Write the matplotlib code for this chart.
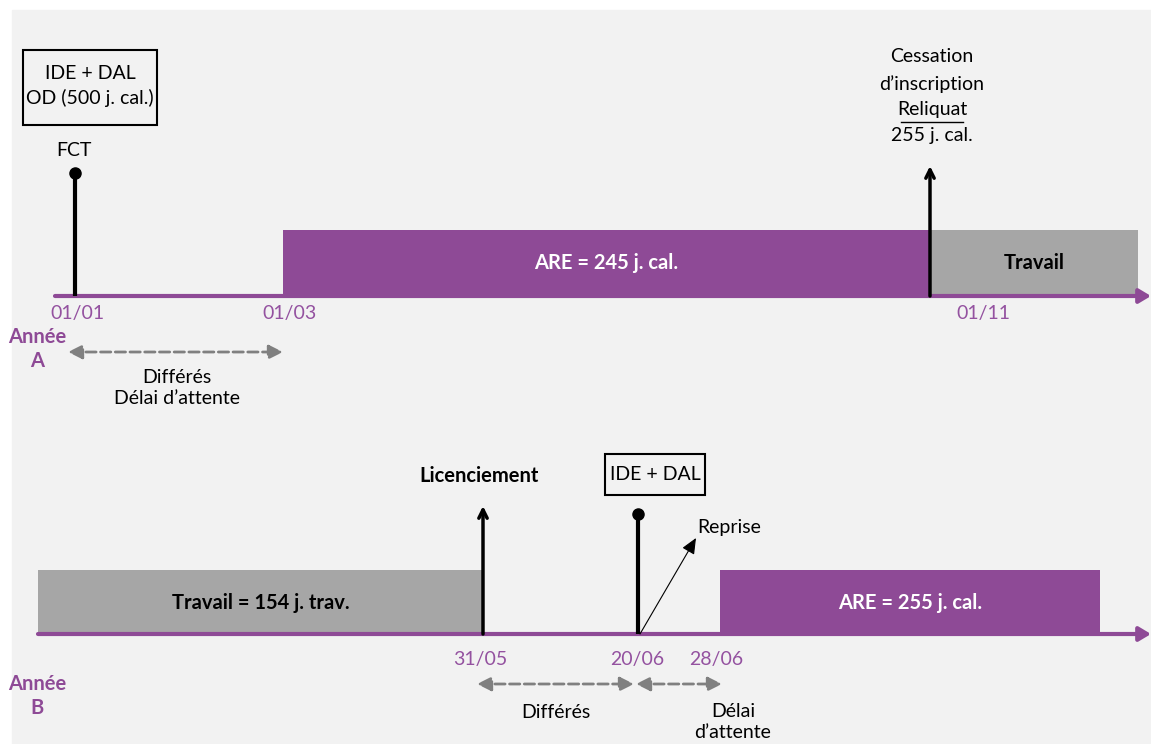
import matplotlib.pyplot as plt
from matplotlib.patches import Rectangle

plt.rcParams['font.family'] = ['Lato', 'DejaVu Sans']

PURPLE = '#8E4A96'
DATE_PURPLE = '#9452A0'
GREY_BAR = '#A6A6A6'
BG = '#F2F2F2'
DASH_GREY = '#808080'
FS = 14
FS_B = 14.5

# --- diagram content ---
bars_a_labels = ['ARE = 245 j. cal.', 'Travail']
bars_b_labels = ['Travail = 154 j. trav.', 'ARE = 255 j. cal.']
dates_a = ['01/01', '01/03', '01/11']
dates_b = ['31/05', '20/06', '28/06']
year_labels = ['Année\nA', 'Année\nB']
box_a_text = 'IDE + DAL\nOD (500 j. cal.)'
box_b_text = 'IDE + DAL'
cessation_lines = ['Cessation', 'd\u2019inscription', 'Reliquat', '255 j. cal.']
gap_a_text = 'Différés\nDélai d\u2019attente'
gap_b_texts = ['Différés', 'Délai\nd\u2019attente']

# --- layout (pixel units) ---
axis_y = [296, 634]
bar_h = 66
bars_a_x = [(283, 930), (930, 1138)]
bars_b_x = [(38, 483), (720, 1100)]
bars_a_col = [PURPLE, GREY_BAR]
bars_b_col = [GREY_BAR, PURPLE]
bars_a_txtcol = ['white', 'black']
bars_b_txtcol = ['black', 'white']
dates_a_x = [77, 290, 983]
dates_b_x = [480, 637, 716]

fig = plt.figure(figsize=(11.51, 7.44), dpi=100)
ax = fig.add_axes([0, 0, 1, 1])
ax.set_xlim(0, 1151)
ax.set_ylim(744, 0)
ax.axis('off')

ax.add_patch(Rectangle((12, 10), 1151, 744, color=BG, zorder=0))

# bars
for (x0, x1), lab, col, tc in zip(bars_a_x, bars_a_labels, bars_a_col, bars_a_txtcol):
    ax.bar(x0, -bar_h, width=x1 - x0, bottom=axis_y[0],
           align='edge', color=col, zorder=1)
    ax.text((x0 + x1) / 2, axis_y[0] - 33, lab, ha='center', va='center',
            fontsize=FS_B, fontweight='bold', color=tc, zorder=3)
for (x0, x1), lab, col, tc in zip(bars_b_x, bars_b_labels, bars_b_col, bars_b_txtcol):
    ax.bar(x0, -bar_h + 2, width=x1 - x0, bottom=axis_y[1],
           align='edge', color=col, zorder=1)
    ax.text((x0 + x1) / 2, axis_y[1] - 31, lab, ha='center', va='center',
            fontsize=FS_B, fontweight='bold', color=tc, zorder=3)

# timeline axes with arrow heads
for x0, y in zip([55, 38], axis_y):
    ax.annotate('', xy=(1151, y), xytext=(x0, y), annotation_clip=False,
                arrowprops=dict(arrowstyle='-|>,head_length=0.5,head_width=0.3',
                                color=PURPLE, lw=3, shrinkA=0, shrinkB=0,
                                mutation_scale=14), zorder=2)

# dates
for lab, x in zip(dates_a, dates_a_x):
    ax.text(x, axis_y[0] + 18, lab, ha='center', va='center', fontsize=FS, color=DATE_PURPLE)
for lab, x in zip(dates_b, dates_b_x):
    ax.text(x, axis_y[1] + 26, lab, ha='center', va='center', fontsize=FS, color=DATE_PURPLE)

# year labels
for lab, y in zip(year_labels, [349, 696]):
    ax.text(37, y, lab, ha='center', va='center', fontsize=FS_B, fontweight='bold',
            color=PURPLE, linespacing=1.25)

# year A: FCT stem with dot
ax.plot([75, 75], [axis_y[0], 173], color='black', lw=3, zorder=3, solid_capstyle='butt')
ax.plot(75, 173, 'o', color='black', ms=8, zorder=3)
ax.text(74, 150, 'FCT', ha='center', va='center', fontsize=FS)
ax.add_patch(Rectangle((23, 50), 134, 75, fc='none', ec='black', lw=1.5))
ax.text(90, 86, box_a_text, ha='center', va='center', fontsize=FS, linespacing=1.4)

# year A: cessation arrow
ax.annotate('', xy=(930, 166), xytext=(930, axis_y[0]),
            arrowprops=dict(arrowstyle='->,head_length=0.5,head_width=0.25', color='black',
                            lw=2.5, shrinkA=0, shrinkB=0, mutation_scale=12), zorder=3)
ces_y = [57, 84, 110, 136]
for line, y in zip(cessation_lines, ces_y):
    t = ax.text(932, y, line, ha='center', va='center', fontsize=FS)
    if line == 'Reliquat':
        fig.canvas.draw()
        bb = t.get_window_extent().transformed(ax.transData.inverted())
        ax.plot([bb.x0 + 4, bb.x1 - 4], [y + 12, y + 12], color='black', lw=1)

# year A: gap arrow
ax.annotate('', xy=(283, 352), xytext=(68, 352),
            arrowprops=dict(arrowstyle='<|-|>,head_length=0.6,head_width=0.3', color=DASH_GREY,
                            lw=2, ls='--', shrinkA=0, shrinkB=0, mutation_scale=14))
ax.text(177, 388, gap_a_text, ha='center', va='center', fontsize=FS, linespacing=1.35)

# year B: licenciement arrow
ax.annotate('', xy=(483, 506), xytext=(483, axis_y[1]),
            arrowprops=dict(arrowstyle='->,head_length=0.5,head_width=0.25', color='black',
                            lw=2.5, shrinkA=0, shrinkB=0, mutation_scale=12), zorder=3)
ax.text(479, 476, 'Licenciement', ha='center', va='center', fontsize=FS_B, fontweight='bold')

# year B: IDE + DAL stem
ax.plot([638, 638], [axis_y[1], 514], color='black', lw=3, zorder=3, solid_capstyle='butt')
ax.plot(638, 514, 'o', color='black', ms=8, zorder=3)
ax.add_patch(Rectangle((605, 454), 100, 41, fc='none', ec='black', lw=1.5))
ax.text(655, 475, box_b_text, ha='center', va='center', fontsize=FS)

# reprise arrow
ax.annotate('', xy=(696, 538), xytext=(640, axis_y[1]),
            arrowprops=dict(arrowstyle='-|>,head_length=0.8,head_width=0.35', color='black',
                            lw=0.8, shrinkA=0, shrinkB=0, mutation_scale=12), zorder=3)
ax.text(729, 528, 'Reprise', ha='center', va='center', fontsize=FS)

# year B: gap arrows
for x0, x1 in [(477, 634), (636, 722)]:
    ax.annotate('', xy=(x1, 684), xytext=(x0, 684),
                arrowprops=dict(arrowstyle='<|-|>,head_length=0.6,head_width=0.3', color=DASH_GREY,
                                lw=2, ls='--', shrinkA=0, shrinkB=0, mutation_scale=14))
ax.text(556, 712, gap_b_texts[0], ha='center', va='center', fontsize=FS)
ax.text(733, 722, gap_b_texts[1], ha='center', va='center', fontsize=FS, linespacing=1.35)

fig.savefig('out.png', dpi=100, facecolor='white')
